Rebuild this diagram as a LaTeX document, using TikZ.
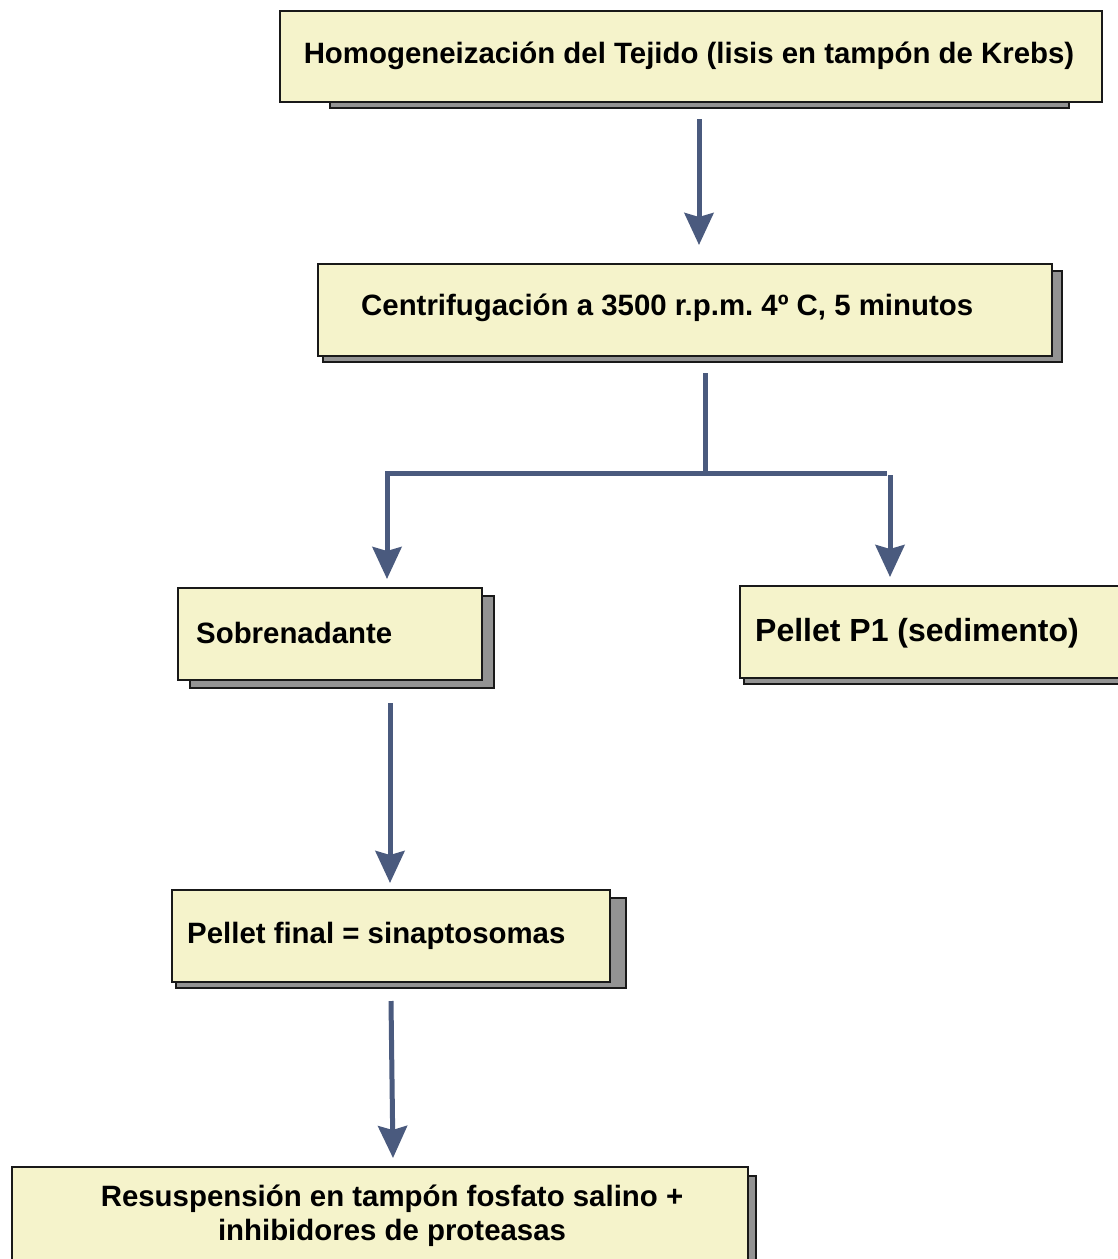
\documentclass[tikz,border=0pt]{standalone}
\usepackage{fontspec}
\setmainfont{Liberation Sans}
\frenchspacing
\usetikzlibrary{arrows.meta}
\definecolor{boxfill}{HTML}{F5F3CB}
\definecolor{shadowgray}{HTML}{939393}
\definecolor{arrowblue}{HTML}{4A5A7E}
\tikzset{
  stepbox/.style={draw=black!90, line width=2.4pt, fill=boxfill, inner sep=0pt, anchor=north west},
  shadowbox/.style={draw=black!90, line width=2.4pt, fill=shadowgray, inner sep=0pt, anchor=north west},
  label/.style={inner sep=0pt, font=\bfseries\fontsize{29.4}{34}\selectfont},
  flow/.style={draw=arrowblue, line width=5pt, -{Stealth[length=32pt, width=29pt, inset=4pt]}},
  flowline/.style={draw=arrowblue, line width=5pt},
}
\begin{document}
\begin{tikzpicture}[x=1pt,y=-1pt]
\useasboundingbox (0,0) rectangle (1118,1259);
% shadows
\node[shadowbox, minimum width=739, minimum height=20] (s1) at (329,87) {};
\node[shadowbox, minimum width=739, minimum height=91] (s2) at (322,270) {};
\node[shadowbox, minimum width=304, minimum height=92] (s3) at (189,595) {};
\node[shadowbox, minimum width=400, minimum height=92] (s4) at (743,591) {};
\node[shadowbox, minimum width=450, minimum height=90] (s5) at (175,897) {};
\node[shadowbox, minimum width=740, minimum height=100] (s6) at (15,1175) {};
% boxes
\node[stepbox, minimum width=822, minimum height=91] (b1) at (279,10) {};
\node[stepbox, minimum width=734, minimum height=92] (b2) at (317,263) {};
\node[stepbox, minimum width=304, minimum height=92] (b3) at (177,587) {};
\node[stepbox, minimum width=400, minimum height=92] (b4) at (739,585) {};
\node[stepbox, minimum width=438, minimum height=92] (b5) at (171,889) {};
\node[stepbox, minimum width=736, minimum height=100] (b6) at (11,1166) {};
% texts
\node[label, anchor=base] (t1) at (689,63) {Homogeneización del Tejido (lisis en tampón de Krebs)};
\node[label, anchor=base west] (t2) at (361,315) {Centrifugación a 3500 r.p.m. 4º C, 5 minutos};
\node[label, anchor=base west] (t3) at (196,643) {Sobrenadante};
\node[label, anchor=base west, font=\bfseries\fontsize{32}{38}\selectfont] (t4) at (755,641) {Pellet P1 (sedimento)};
\node[label, anchor=base west] (t5) at (187,943) {Pellet final = sinaptosomas};
\node[label, anchor=base] (t6a) at (392,1206) {Resuspensión en tampón fosfato salino +};
\node[label, anchor=base] (t6b) at (392,1240) {inhibidores de proteasas};
% connectors
\coordinate (a1s) at (699,119);
\coordinate (a1e) at (699,245);
\draw[flow] (a1s) -- (a1e);
\coordinate (a2s) at (705,373);
\coordinate (a2m) at (705,473);
\coordinate (a2l) at (387,473);
\coordinate (a2le) at (387,579);
\coordinate (a2r) at (887,473);
\coordinate (a2rs) at (890,475);
\coordinate (a2re) at (890,577);
\draw[flowline] (a2s) -- (a2m);
\draw[flow] (a2r) -- (a2l) -- (a2le);
\draw[flow] (a2rs) -- (a2re);
\coordinate (a3s) at (390,703);
\coordinate (a3e) at (390,883);
\draw[flow] (a3s) -- (a3e);
\coordinate (a4s) at (391,1001);
\coordinate (a4e) at (393,1158);
\draw[flow] (a4s) -- (a4e);
\end{tikzpicture}
\end{document}
